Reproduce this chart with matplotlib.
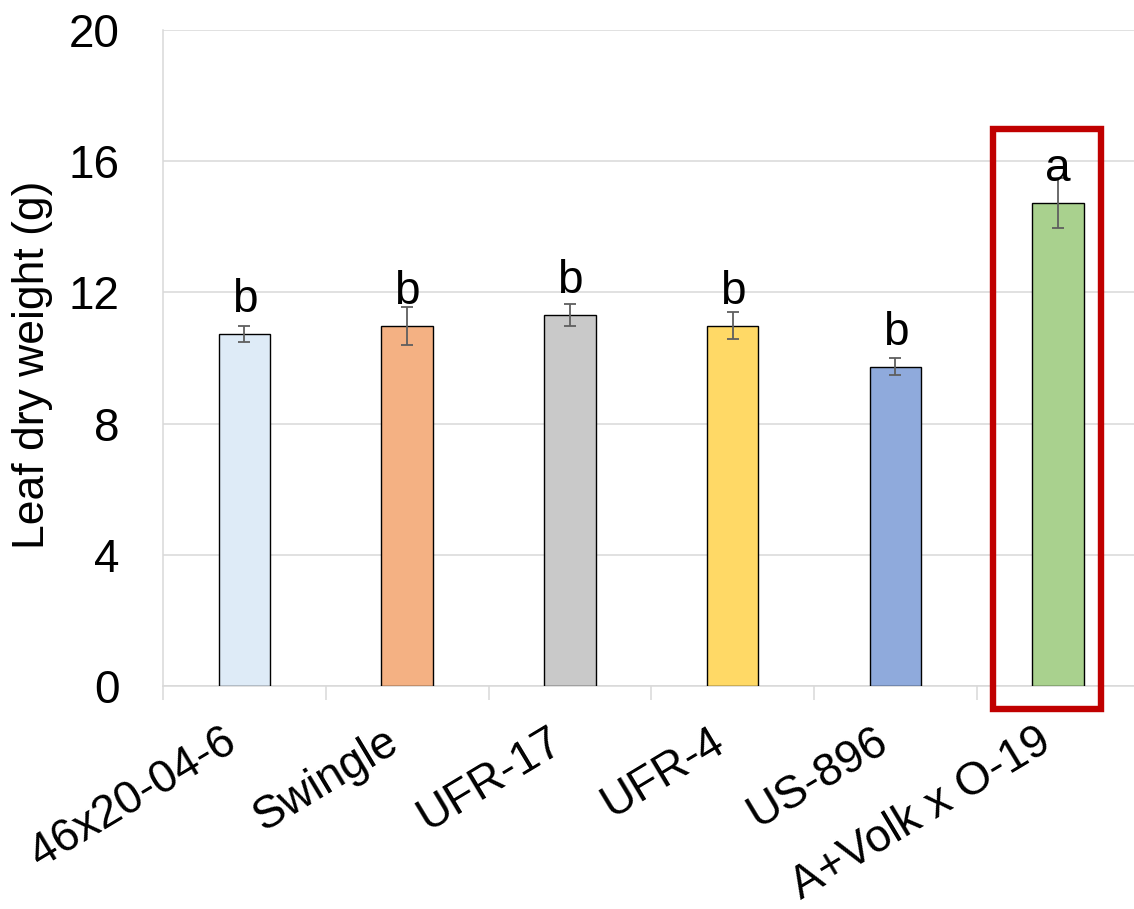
import matplotlib.pyplot as plt
import numpy as np
from matplotlib.patches import Rectangle

plt.rcParams['font.family'] = ['Liberation Sans', 'DejaVu Sans']

# rootstocks, mean leaf dry weight (g) and error
rootstocks = ['46x20-04-6', 'Swingle', 'UFR-17', 'UFR-4', 'US-896', 'A+Volk x O-19']
weight = [10.74, 10.98, 11.32, 10.98, 9.74, 14.73]
err = [0.24, 0.58, 0.34, 0.41, 0.25, 0.76]
letters = ['b', 'b', 'b', 'b', 'b', 'a']
colors = ['#DEEBF7', '#F4B183', '#C9C9C9', '#FFD966', '#8FAADC', '#A9D18E']
highlight = 5  # boxed in red

grid_c = '#D9D9D9'

fig = plt.figure(figsize=(11.34, 9.09), dpi=100)
ax = fig.add_axes([163/1134, 1-686/909, 976.5/1134, 656/909])

x = np.arange(len(rootstocks))
ax.bar(x, weight, width=0.315, color=colors, edgecolor='black', linewidth=1.0, zorder=3)
ax.errorbar(x, weight, yerr=err, fmt='none', ecolor='#5F5F5F', elinewidth=1.3,
            capsize=4, capthick=1.3, zorder=4)

for xi, w, lab in zip(x, weight, letters):
    ax.annotate(lab, (xi, w), xytext=(0, 15.8), textcoords='offset points',
                ha='center', va='baseline', fontsize=33, zorder=5)

# red box around the best rootstock
ax.add_patch(Rectangle((highlight - 0.403, -0.70), 0.666, 17.68, fill=False,
                       edgecolor='#C00000', linewidth=4.6, clip_on=False, zorder=6))

ax.set_xlim(-0.5, len(rootstocks) - 0.5)
ax.set_ylim(0, 20)
ax.set_yticks(np.arange(0, 21, 4))
ax.grid(axis='y', color=grid_c, linewidth=1.1, zorder=0)

for s in ['top', 'right']:
    ax.spines[s].set_visible(False)
for s in ['left', 'bottom']:
    ax.spines[s].set_color(grid_c)
    ax.spines[s].set_linewidth(1.1)

ax.set_xticks(x)
ax.set_xticklabels(rootstocks, rotation=31, ha='right', va='top', fontsize=33)
ax.set_xticks(np.arange(-0.5, len(rootstocks)), minor=True)
ax.tick_params(axis='x', which='major', length=0, pad=24)
ax.tick_params(axis='x', which='minor', length=10, width=1.1, color=grid_c)
ax.tick_params(axis='y', length=0, pad=31.5, labelsize=33)

fig.text(33/1134, 1-365/909, 'Leaf dry weight (g)', rotation=90, ha='center',
         va='center', fontsize=32)

fig.savefig('out.png', dpi=100)
